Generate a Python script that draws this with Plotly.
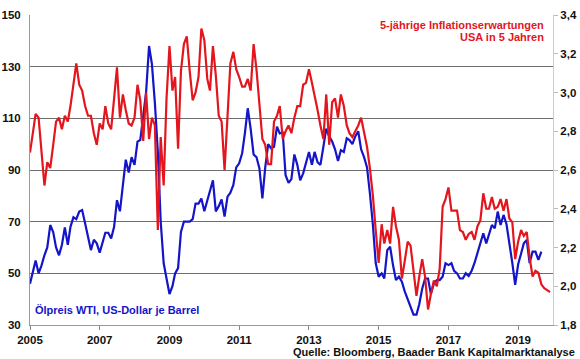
import pandas as pd
import plotly.graph_objects as go

# WTI oil price, USD per barrel, monthly from Jan 2005
oil = [46, 51, 55, 50, 53, 57, 60, 68.7, 66, 60, 57, 61,
       67.8, 61, 68, 71.7, 71, 73.9, 74.5, 69.4, 64, 59, 63, 61.6,
       58, 62, 65.7, 65.7, 63.5, 68, 78.3, 74, 84, 94, 89, 95,
       92, 101, 101.6, 111, 120, 138, 131, 116, 97, 70, 54, 48,
       42, 45, 50, 52, 66, 70, 70, 70, 71, 77, 77, 79,
       74, 78, 82, 86, 74, 76, 78.6, 72, 79.7, 81.2, 84.2, 91,
       92.6, 96.5, 104, 113.9, 106, 96, 95, 90.6, 79, 91, 100, 98.4,
       99, 106.8, 104.2, 104.5, 88, 85, 86.5, 96, 92, 86, 88.7, 92.6,
       97, 92, 97, 93, 92, 99, 106, 103, 101, 98, 93.5, 97.7,
       97, 102.3, 101.6, 100, 103, 105, 98, 95, 91, 81, 69, 54,
       48.7, 50, 48, 59, 60.3, 53, 47.4, 48.7, 46.8, 43, 39.7, 36.5,
       34, 34, 38, 44, 48, 48, 42, 46, 47.4, 47.4, 48.7, 53.9,
       53.2, 53.9, 51, 50, 48, 48, 50, 49, 51, 54, 57.7, 61,
       65.5, 61.6, 65.5, 68.7, 67.4, 73.9, 68.7, 72.6, 69, 62, 54, 45.5,
       53.5, 57.7, 61.6, 62.9, 54, 58.4, 58.4, 55.2, 58.4]

# 5y5y inflation expectations USA, %, monthly from Jan 2005
infl = [2.69, 2.80, 2.89, 2.87, 2.69, 2.52, 2.64, 2.61, 2.73, 2.85, 2.87, 2.81,
        2.88, 2.85, 2.93, 3.04, 3.15, 3.04, 3.01, 2.93, 2.88, 2.88, 2.79, 2.73,
        2.84, 2.81, 2.93, 2.84, 2.81, 2.97, 3.13, 2.87, 2.99, 2.91, 2.84, 2.83,
        2.87, 3.04, 2.96, 2.75, 3.00, 2.76, 2.87, 2.83, 2.29, 2.77, 2.52, 2.97,
        3.24, 3.01, 3.08, 2.71, 3.11, 3.25, 3.29, 3.11, 2.96, 3.00, 3.08, 3.33,
        3.27, 3.07, 3.01, 3.24, 3.09, 2.88, 2.85, 2.60, 2.89, 3.15, 3.21, 3.12,
        3.08, 3.03, 3.03, 3.07, 3.01, 3.25, 3.12, 2.95, 2.76, 2.73, 2.63, 2.63,
        2.85, 2.88, 2.93, 2.76, 2.80, 2.83, 2.79, 2.87, 2.93, 2.93, 3.04, 3.05,
        3.12, 3.05, 2.99, 2.91, 2.83, 2.76, 2.99, 2.73, 2.95, 2.97, 2.87, 2.99,
        2.93, 2.83, 2.79, 2.77, 2.80, 2.83, 2.87, 2.80, 2.72, 2.61, 2.47, 2.29,
        2.12, 2.32, 2.22, 2.29, 2.22, 2.41, 2.31, 2.24, 2.04, 2.13, 2.23, 2.21,
        2.07, 1.95, 2.05, 2.14, 2.05, 1.88, 1.96, 2.03, 2.00, 2.09, 2.41, 2.45,
        2.51, 2.39, 2.39, 2.39, 2.29, 2.28, 2.24, 2.27, 2.28, 2.24, 2.31, 2.34,
        2.48, 2.40, 2.40, 2.46, 2.40, 2.41, 2.45, 2.39, 2.45, 2.35, 2.33, 2.14,
        2.23, 2.29, 2.26, 2.28, 2.15, 2.05, 2.08, 2.07, 2.01, 1.99, 1.98, 1.97]

oil_dates = pd.date_range("2005-01-01", periods=len(oil), freq="MS")
infl_dates = pd.date_range("2005-01-01", periods=len(infl), freq="MS")

left_ticks = [30, 50, 70, 90, 110, 130, 150]
right_ticks = [1.8, 2.0, 2.2, 2.4, 2.6, 2.8, 3.0, 3.2, 3.4]
year_ticks = ["2005", "2007", "2009", "2011", "2013", "2015", "2017", "2019"]

RED = "#e3161d"
BLUE = "#1414c8"
FONT = "Liberation Sans"
TICKFONT = dict(family=FONT, size=11.5, weight="bold", color="#111111")

fig = go.Figure()
fig.add_trace(go.Scatter(x=oil_dates, y=oil, mode="lines",
                         line=dict(color=BLUE, width=2.2), yaxis="y"))
fig.add_trace(go.Scatter(x=infl_dates, y=infl, mode="lines",
                         line=dict(color=RED, width=2.2), yaxis="y2"))

fig.update_layout(
    width=580, height=359,
    margin=dict(l=30, r=27, t=15, b=34),
    paper_bgcolor="white", plot_bgcolor="white",
    showlegend=False,
    separators=", ",
    font=dict(family=FONT, size=12, color="#111111"),
    xaxis=dict(
        type="date",
        range=["2005-01-01", "2020-01-01"],
        tickvals=[f"{y}-01-01" for y in year_ticks],
        ticktext=year_ticks,
        ticks="outside", ticklen=4, tickcolor="#888888",
        showline=True, linecolor="#999999", linewidth=1,
        showgrid=False, zeroline=False, automargin=False,
        tickfont=TICKFONT,
    ),
    yaxis=dict(
        range=[30, 150],
        tickvals=left_ticks,
        ticks="outside", ticklen=6, tickcolor="rgba(0,0,0,0)",
        showline=True, linecolor="#999999", linewidth=1,
        showgrid=True, gridcolor="#6e6e6e", gridwidth=1,
        zeroline=False, automargin=False,
        tickfont=TICKFONT,
    ),
    yaxis2=dict(
        range=[1.8, 3.4],
        tickvals=right_ticks,
        tickformat=".1f",
        overlaying="y", side="right",
        ticks="outside", ticklen=4, tickcolor="#bbbbbb",
        showline=True, linecolor="#cccccc", linewidth=1,
        showgrid=False, zeroline=False, automargin=False,
        tickfont=TICKFONT,
    ),
    annotations=[
        dict(xref="paper", yref="paper", x=0.006, y=0.048,
             xanchor="left", yanchor="middle", showarrow=False,
             text="Ölpreis WTI, US-Dollar je Barrel",
             font=dict(family=FONT, size=11, weight="bold", color=BLUE)),
        dict(xref="paper", yref="paper", x=0.987, y=0.968,
             xanchor="right", yanchor="middle", showarrow=False,
             text="5-jährige Inflationserwartungen",
             font=dict(family=FONT, size=11, weight="bold", color=RED)),
        dict(xref="paper", yref="paper", x=0.987, y=0.929,
             xanchor="right", yanchor="middle", showarrow=False,
             text="USA in 5 Jahren",
             font=dict(family=FONT, size=11, weight="bold", color=RED)),
        dict(xref="paper", yref="paper", x=1.046, y=-0.087,
             xanchor="right", yanchor="middle", showarrow=False,
             text="Quelle: Bloomberg, Baader Bank Kapitalmarktanalyse",
             font=dict(family=FONT, size=11, weight="bold", color="#111111")),
    ],
)

fig.write_html("out.html", config={"displayModeBar": False},
               post_script="document.body.style.margin='0';")
